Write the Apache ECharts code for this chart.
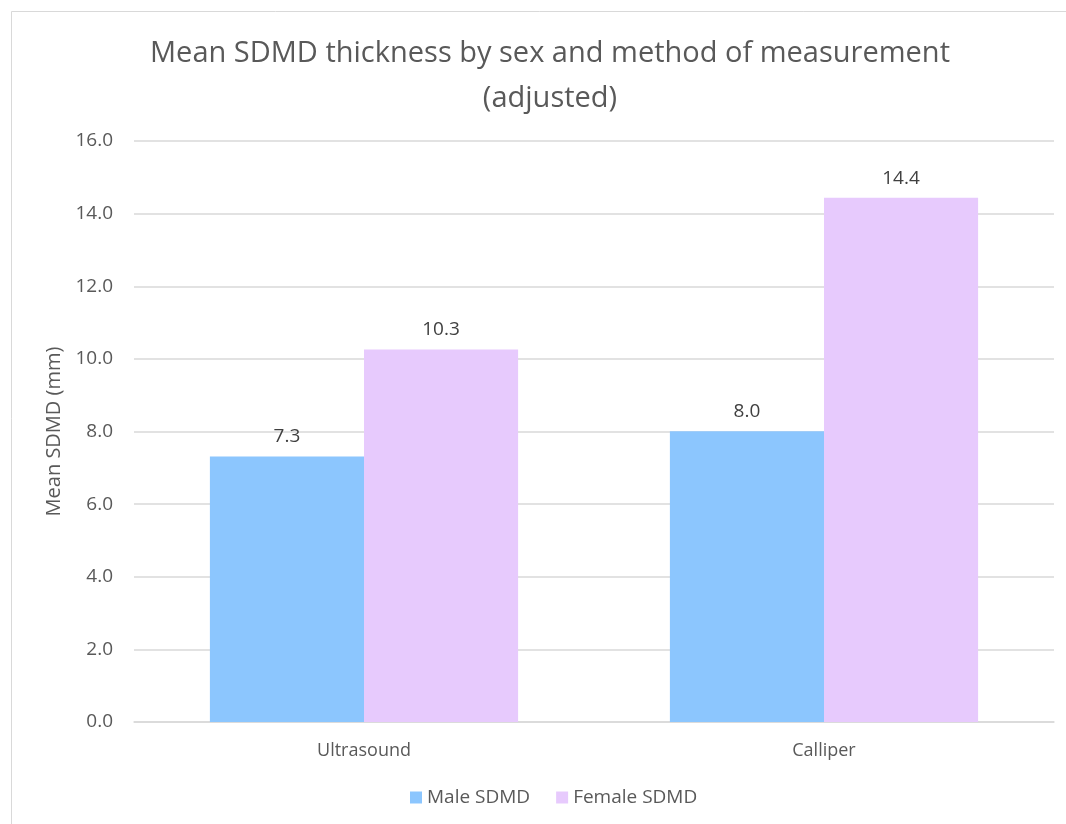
<!DOCTYPE html>
<html>
<head>
<meta charset="utf-8">
<script src="https://cdn.jsdelivr.net/npm/echarts@6/dist/echarts.min.js"></script>
<style>
html,body{margin:0;padding:0;background:#fff;}
#chart{width:1066px;height:824px;}
</style>
</head>
<body>
<div id="chart"></div>
<script>
var categories = ['Ultrasound', 'Calliper'];
var maleValues = [7.31, 8.01];
var femaleValues = [10.26, 14.44];
var yTicks = [0, 2, 4, 6, 8, 10, 12, 14, 16];

var FONT = 'Open Sans';
var chart = echarts.init(document.getElementById('chart'), null, {renderer: 'canvas'});
var labelOpt = {
  show: true, position: 'top', distance: 10,
  color: '#404040', fontFamily: FONT, fontSize: 19,
  formatter: function (p) { return p.value.toFixed(1); }
};
chart.setOption({
  animation: false,
  backgroundColor: '#ffffff',
  graphic: [{
    type: 'rect', silent: true, z: -10,
    shape: {x: 11.5, y: 11.5, width: 1100, height: 900},
    style: {fill: '#ffffff', stroke: '#d9d9d9', lineWidth: 1}
  }],
  title: {
    text: 'Mean SDMD thickness by sex and method of measurement\n(adjusted)',
    left: 545, textAlign: 'center', top: 26,
    textStyle: {fontFamily: FONT, fontSize: 29, fontWeight: 'normal', color: '#595959', lineHeight: 45}
  },
  legend: {
    bottom: 12, left: 405,
    itemWidth: 12, itemHeight: 12, itemGap: 26,
    icon: 'rect',
    textStyle: {fontFamily: FONT, fontSize: 19, color: '#595959'},
    data: ['Male SDMD', 'Female SDMD']
  },
  grid: {left: 134, right: 12, top: 141, bottom: 102, containLabel: false},
  xAxis: {
    type: 'category', data: categories,
    axisLine: {show: true, lineStyle: {color: '#d9d9d9', width: 1.5}},
    axisTick: {show: false},
    axisLabel: {fontFamily: FONT, fontSize: 18, color: '#595959', margin: 20}
  },
  yAxis: {
    type: 'value', min: yTicks[0], max: yTicks[yTicks.length - 1], interval: 2,
    name: 'Mean SDMD (mm)', nameLocation: 'middle', nameGap: 68,
    nameTextStyle: {fontFamily: FONT, fontSize: 20, color: '#595959'},
    axisLine: {show: false}, axisTick: {show: false},
    splitLine: {lineStyle: {color: '#d9d9d9', width: 1.5}},
    axisLabel: {fontFamily: FONT, fontSize: 19, color: '#595959', margin: 21,
      formatter: function (v) { return v.toFixed(1); }}
  },
  series: [
    {name: 'Male SDMD', type: 'bar', data: maleValues, barGap: '0%', barCategoryGap: '33%',
      itemStyle: {color: '#8cc6fe'}, label: labelOpt},
    {name: 'Female SDMD', type: 'bar', data: femaleValues, barGap: '0%', barCategoryGap: '33%',
      itemStyle: {color: '#e7cafd'}, label: labelOpt}
  ]
});
</script>
</body>
</html>
